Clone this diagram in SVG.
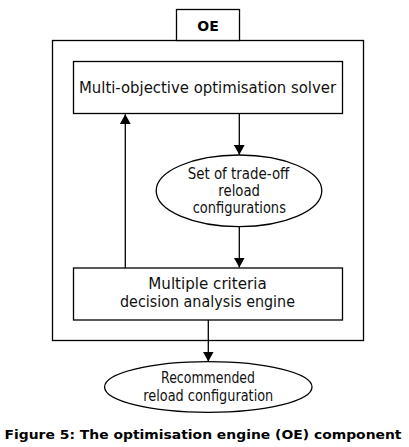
<svg xmlns="http://www.w3.org/2000/svg" width="409" height="447" viewBox="0 0 409 447">
<defs>
<style>
.box{fill:#fff;stroke:#000;stroke-width:1.3}
.ell{fill:#fff;stroke:#000;stroke-width:1.3}
.lbl{font-family:"DejaVu Sans",Verdana,sans-serif;font-size:15px;fill:#111;text-anchor:middle}
.bold{font-family:"DejaVu Sans","Liberation Sans",sans-serif;font-weight:bold;fill:#000;text-anchor:middle}
.conn{fill:none;stroke:#000;stroke-width:1.3;marker-end:url(#arr)}
</style>
<marker id="arr" viewBox="0 0 10 11" refX="10" refY="5.5" markerWidth="10" markerHeight="11" markerUnits="userSpaceOnUse" orient="auto">
<path d="M0,0 L10,5.5 L0,11 Z" fill="#000"/>
</marker>
</defs>
<rect width="409" height="447" fill="#fff"/>
<g id="oe-container">
<rect class="box" x="52.5" y="40.5" width="311" height="300"/>
<rect class="box" x="176.5" y="9.5" width="63" height="31"/>
<text class="bold" x="208" y="31" font-size="14">OE</text>
</g>
<g id="solver">
<rect class="box" x="73.5" y="61.5" width="269" height="52"/>
<text class="lbl" x="207.5" y="93.3" textLength="257" lengthAdjust="spacingAndGlyphs">Multi-objective optimisation solver</text>
</g>
<g id="tradeoff">
<ellipse class="ell" cx="239" cy="190.8" rx="82.8" ry="35.8"/>
<text class="lbl" x="238.5" y="179.3" textLength="101.7" lengthAdjust="spacingAndGlyphs">Set of trade-off</text>
<text class="lbl" x="239.2" y="196" textLength="41.7" lengthAdjust="spacingAndGlyphs">reload</text>
<text class="lbl" x="239.3" y="212.7" textLength="93.3" lengthAdjust="spacingAndGlyphs">configurations</text>
</g>
<g id="mcda">
<rect class="box" x="73.5" y="268" width="269" height="52"/>
<text class="lbl" x="207.5" y="289.3" textLength="118.4" lengthAdjust="spacingAndGlyphs">Multiple criteria</text>
<text class="lbl" x="207.5" y="306.5" textLength="175" lengthAdjust="spacingAndGlyphs">decision analysis engine</text>
</g>
<g id="recommended">
<ellipse class="ell" cx="208.3" cy="387" rx="103.7" ry="25.3"/>
<text class="lbl" x="208" y="383.3" textLength="94" lengthAdjust="spacingAndGlyphs">Recommended</text>
<text class="lbl" x="208.3" y="400.7" textLength="130" lengthAdjust="spacingAndGlyphs">reload configuration</text>
</g>
<g id="connectors">
<path class="conn" d="M239.3,113.5 V154.8"/>
<path class="conn" d="M239.3,226.6 V267.6"/>
<path class="conn" d="M125.3,268 V114.2"/>
<path class="conn" d="M208.3,320 V361.5"/>
</g>
<text class="bold" x="203" y="439" font-size="12.5" textLength="397" lengthAdjust="spacingAndGlyphs">Figure 5: The optimisation engine (OE) component</text>
</svg>
